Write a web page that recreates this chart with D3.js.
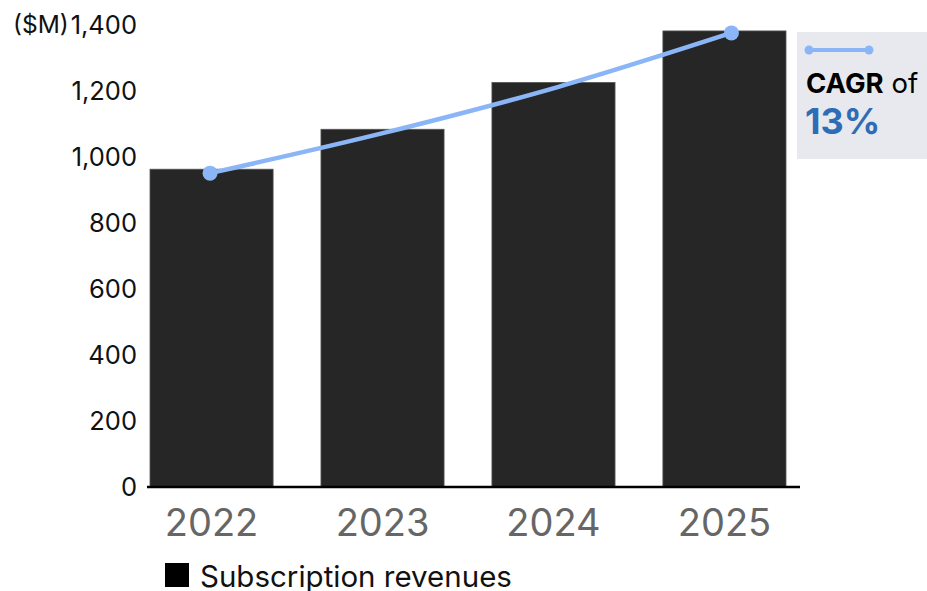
<!DOCTYPE html>
<html>
<head>
<meta charset="utf-8">
<script src="https://cdn.jsdelivr.net/npm/d3@7"></script>
<style>
  body { margin: 0; background: #fff; }
  text { font-family: Inter, "Noto Sans", sans-serif; }
</style>
</head>
<body>
<svg id="chart" width="927" height="591"></svg>
<script>
// data
const years = ["2022", "2023", "2024", "2025"];
const revenues = [963, 1084, 1226, 1382];
const cagrLine = [951, 1073, 1212, 1376];
const yTicks = [0, 200, 400, 600, 800, 1000, 1200, 1400];
const unitLabel = "($M)";
const legendLabel = "Subscription revenues";
const cagrValue = "13%";

const svg = d3.select("#chart");

const x = d3.scaleBand().domain(years).range([150, 786]).paddingInner(0.28);
const y = d3.scaleLinear().domain([0, 1400]).range([487, 25]);
const xc = d => x(d) + x.bandwidth() / 2;
// the line sits a little off the bar centres at the right end
const xl = d3.scaleLinear().domain([0, years.length - 1]).range([xc(years[0]) - 1.5, xc(years[years.length - 1]) + 7]);

// y axis labels
const yAxis = svg.append("g").attr("transform", "translate(137,0)")
  .call(d3.axisLeft(y).tickValues(yTicks).tickSize(0).tickPadding(0).tickFormat(d3.format(",")));
yAxis.select(".domain").remove();
yAxis.selectAll("text").attr("font-size", 25.5).attr("fill", "#111").attr("font-family", "Inter");

svg.append("text").attr("x", 13).attr("y", y(1400)).attr("dy", "0.32em")
  .attr("font-size", 24.5).attr("fill", "#111").text(unitLabel);

// bars
svg.append("g").selectAll("rect").data(years).join("rect")
  .attr("x", d => x(d))
  .attr("y", (d, i) => y(revenues[i]))
  .attr("width", x.bandwidth())
  .attr("height", (d, i) => y(0) - y(revenues[i]))
  .attr("fill", "#262626")
  .attr("stroke", "#555")
  .attr("stroke-width", 0.8);

// baseline
svg.append("line").attr("x1", 147).attr("x2", 800).attr("y1", y(0)).attr("y2", y(0))
  .attr("stroke", "#000").attr("stroke-width", 2.5);

// x labels
const xAxis = svg.append("g").attr("transform", `translate(0,${y(0)})`)
  .call(d3.axisBottom(x).tickSize(0).tickPadding(22));
xAxis.select(".domain").remove();
xAxis.selectAll("text").attr("font-size", 38).attr("fill", "#666").attr("font-family", "Inter");

// CAGR curve
const lineColor = "#8ab6f7";
const line = d3.line().x((d, i) => xl(i)).y(d => y(d)).curve(d3.curveMonotoneX);
svg.append("path").datum(cagrLine).attr("d", line)
  .attr("fill", "none").attr("stroke", lineColor).attr("stroke-width", 4.5);
svg.append("g").selectAll("circle").data([0, cagrLine.length - 1]).join("circle")
  .attr("cx", i => xl(i)).attr("cy", i => y(cagrLine[i])).attr("r", 7.5).attr("fill", lineColor);

// CAGR box
const box = svg.append("g").attr("transform", "translate(797,32)");
box.append("rect").attr("width", 130).attr("height", 127).attr("fill", "#e8e9ee");
box.append("line").attr("x1", 12).attr("x2", 72).attr("y1", 18).attr("y2", 18)
  .attr("stroke", lineColor).attr("stroke-width", 4);
box.selectAll("circle").data([12, 72]).join("circle")
  .attr("cx", d => d).attr("cy", 18).attr("r", 4.5).attr("fill", lineColor);
const t1 = box.append("text").attr("x", 9).attr("y", 61).attr("font-size", 27.5).attr("fill", "#000");
t1.append("tspan").attr("font-weight", 700).text("CAGR");
t1.append("tspan").attr("font-weight", 400).text(" of");
box.append("text").attr("x", 8).attr("y", 102).attr("font-size", 36).attr("font-weight", 700)
  .attr("fill", "#2e6db6").text(cagrValue);

// legend
const lg = svg.append("g").attr("transform", "translate(165,563)");
lg.append("rect").attr("width", 24).attr("height", 24).attr("fill", "#000");
lg.append("text").attr("x", 35).attr("y", 24).attr("font-size", 29.5).attr("fill", "#111").text(legendLabel);
</script>
</body>
</html>
